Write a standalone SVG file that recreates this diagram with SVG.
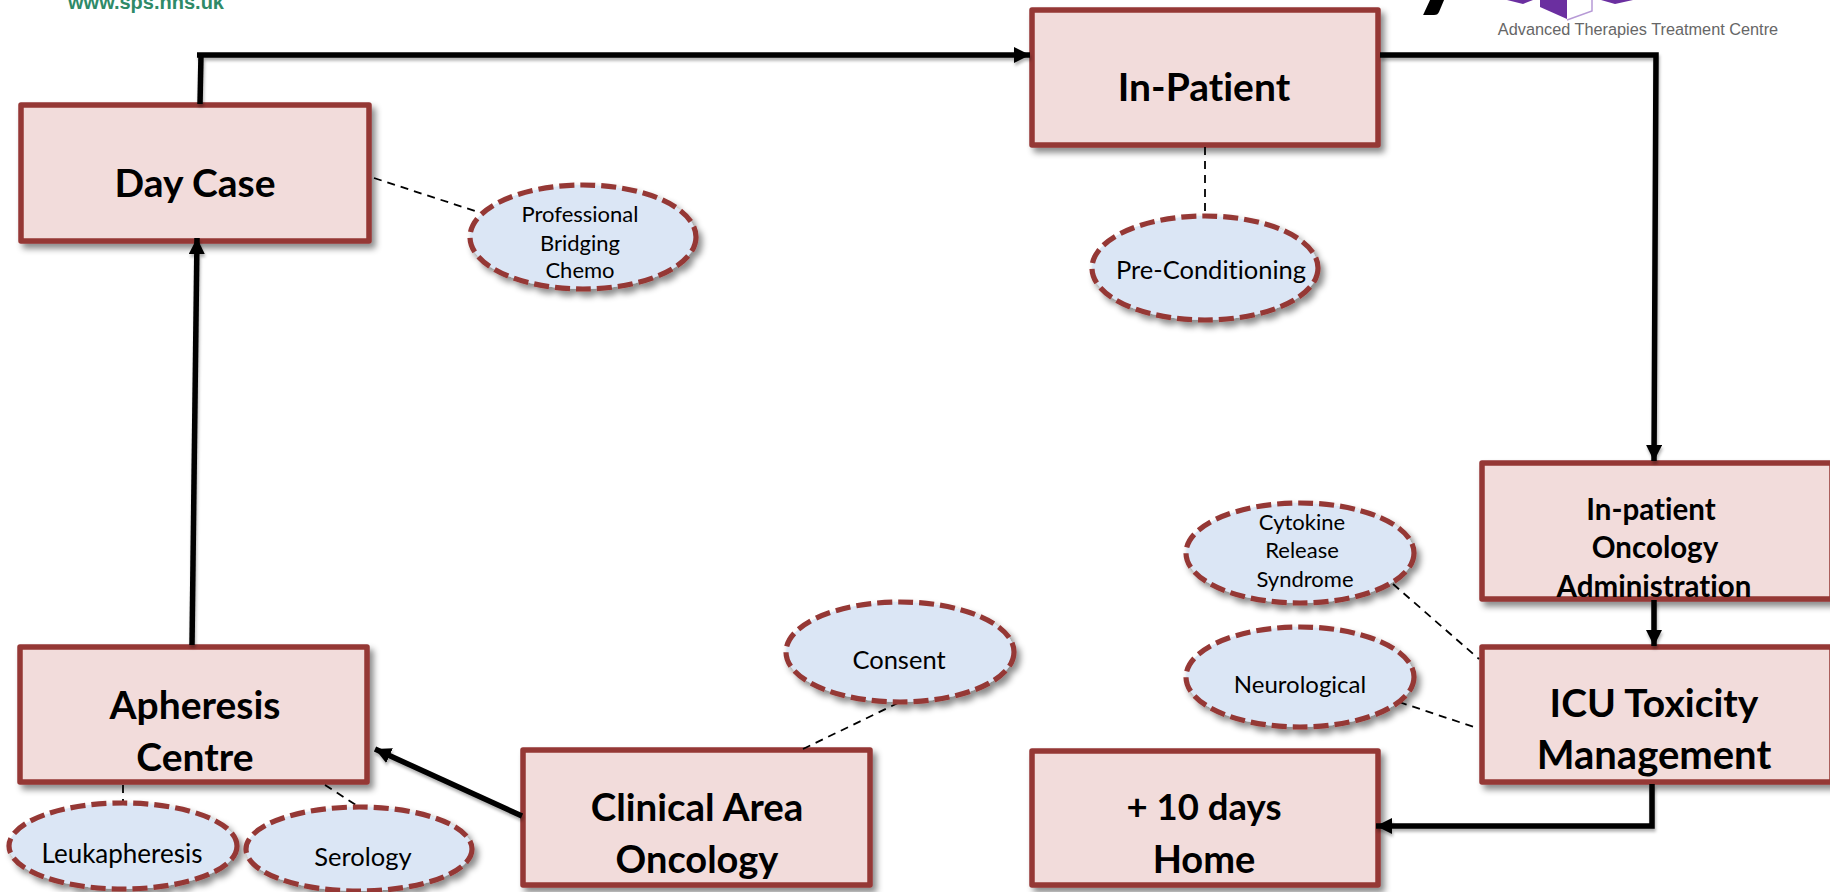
<svg xmlns="http://www.w3.org/2000/svg" width="1830" height="892" viewBox="0 0 1830 892">
<style>
.box{fill:#F2DCDB;stroke:#953735;stroke-width:5.5;stroke-linejoin:round}
.oval{fill:#DBE6F5;stroke:#953735;stroke-width:5.2;stroke-dasharray:15 6}
text{font-family:Lato,"Liberation Sans",sans-serif;text-anchor:middle;fill:#000;font-variant-ligatures:none}
.t{font-size:39px;font-weight:700}
.m{font-size:29.5px;font-weight:700}
.s{font-size:25.5px}
.xs{font-size:22px}
.flow{fill:none;stroke:#000;stroke-width:5.5;stroke-linejoin:miter}
.link{fill:none;stroke:#000;stroke-width:1.8;stroke-dasharray:8 6}
</style>
<defs>
<filter id="sh" x="-10%" y="-10%" width="125%" height="125%"><feDropShadow dx="4" dy="5" stdDeviation="3" flood-color="#000" flood-opacity="0.45"/></filter>
<filter id="ln" x="-5%" y="-5%" width="110%" height="110%"><feDropShadow dx="1" dy="3" stdDeviation="1.6" flood-color="#000" flood-opacity="0.3"/></filter>
<marker id="arrow" markerUnits="userSpaceOnUse" markerWidth="18" markerHeight="16" refX="16" refY="8" orient="auto"><path d="M0 0L16 8L0 16Z" fill="#000"/></marker>
</defs>
<g id="logos">
<text x="146" y="9" style="font-family:'Liberation Sans',sans-serif;font-size:20px;font-weight:700;fill:#2F8A68">www.sps.nhs.uk</text>
<text x="1440" y="-3" style="font-size:108px;font-weight:900">y</text>
<path d="M1507 0L1523 4L1533 0Z" fill="#6B2FA0"/>
<path d="M1601 0L1615 4L1633 0Z" fill="#6B2FA0"/>
<path d="M1540 0L1540 7L1567 19L1567 0Z" fill="#6B2FA0"/>
<path d="M1567 20L1592 11L1592 0" fill="#fff" stroke="#B79AD6" stroke-width="1.5"/>
<text x="1638" y="35" style="font-family:'Liberation Sans',sans-serif;font-size:16.3px;fill:#666">Advanced Therapies Treatment Centre</text>
</g>
<g id="day-case" filter="url(#sh)"><rect class="box" x="21" y="105" width="348" height="136"/></g>
<g id="in-patient" filter="url(#sh)"><rect class="box" x="1032" y="10" width="346" height="135"/></g>
<g id="oncology-admin" filter="url(#sh)"><rect class="box" x="1482" y="463" width="350" height="136"/></g>
<g id="icu" filter="url(#sh)"><rect class="box" x="1482" y="647" width="350" height="135"/></g>
<g id="home" filter="url(#sh)"><rect class="box" x="1032" y="751" width="346" height="134"/></g>
<g id="clinical" filter="url(#sh)"><rect class="box" x="523" y="750" width="347" height="135"/></g>
<g id="apheresis" filter="url(#sh)"><rect class="box" x="20" y="647" width="347" height="135"/></g>
<g id="connectors">
<g filter="url(#ln)">
<path class="flow" d="M200 104L201 55" />
<path class="flow" d="M197 55H1030" marker-end="url(#arrow)"/>
<path class="flow" d="M1380 55H1656L1654 461" marker-end="url(#arrow)"/>
<path class="flow" d="M192 645L197 238" marker-end="url(#arrow)"/>
<path class="flow" d="M522 816L375 749" marker-end="url(#arrow)"/>
<path class="flow" d="M1654 600V646" marker-end="url(#arrow)"/>
<path class="flow" d="M1652 784V826H1376" marker-end="url(#arrow)"/>
</g>
<path class="link" d="M374 178L475 211"/>
<path class="link" d="M1205 147V218"/>
<path class="link" d="M803 749L898 703"/>
<path class="link" d="M123 785V804"/>
<path class="link" d="M325 785L356 805"/>
<path class="link" d="M1393 584L1479 659"/>
<path class="link" d="M1399 702L1474 727"/>
</g>
<g id="ellipses">
<g id="bridging"><ellipse class="oval" filter="url(#sh)" cx="583" cy="237" rx="113" ry="52"/><text class="xs" x="580" y="222">Professional</text><text class="xs" x="580" y="251">Bridging</text><text class="xs" x="580" y="278">Chemo</text></g>
<g id="pre-conditioning"><ellipse class="oval" filter="url(#sh)" cx="1205" cy="268" rx="113" ry="52"/><text class="s" x="1211" y="279">Pre-Conditioning</text></g>
<g id="consent"><ellipse class="oval" filter="url(#sh)" cx="900" cy="652" rx="114" ry="50"/><text class="s" x="899" y="669">Consent</text></g>
<g id="leukapheresis"><ellipse class="oval" filter="url(#sh)" cx="123" cy="846" rx="114" ry="43"/><text class="s" x="122" y="863" style="font-size:26px">Leukapheresis</text></g>
<g id="serology"><ellipse class="oval" filter="url(#sh)" cx="359" cy="849" rx="113" ry="42"/><text class="s" x="363" y="866">Serology</text></g>
<g id="cytokine"><ellipse class="oval" filter="url(#sh)" cx="1300" cy="553" rx="114" ry="50"/><text class="xs" x="1302" y="530">Cytokine</text><text class="xs" x="1302" y="558">Release</text><text class="xs" x="1305" y="587">Syndrome</text></g>
<g id="neurological"><ellipse class="oval" filter="url(#sh)" cx="1300" cy="677" rx="114" ry="50"/><text class="xs" x="1300" y="693" style="font-size:24px">Neurological</text></g>
</g>
<g id="labels">
<text class="t" x="195" y="197">Day Case</text>
<text class="t" x="1204" y="101">In-Patient</text>
<text class="m" x="1651" y="520">In-patient</text><text class="m" x="1655" y="558">Oncology</text><text class="m" x="1654" y="597">Administration</text>
<text class="t" x="1654" y="717">ICU Toxicity</text><text class="t" x="1654" y="769" style="font-size:40px">Management</text>
<text class="t" x="1204" y="820" style="font-size:36.5px">+ 10 days</text><text class="t" x="1204" y="873" style="font-size:38px">Home</text>
<text class="t" x="697" y="821" style="font-size:38.5px">Clinical Area</text><text class="t" x="697" y="873" style="font-size:38px">Oncology</text>
<text class="t" x="195" y="719">Apheresis</text><text class="t" x="195" y="771">Centre</text>
</g>
</svg>
